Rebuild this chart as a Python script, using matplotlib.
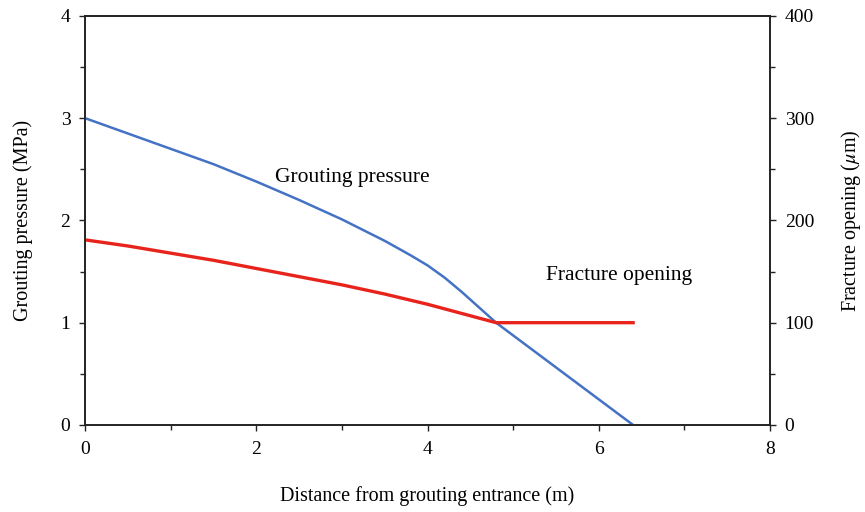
import matplotlib
matplotlib.use("Agg")
import matplotlib.pyplot as plt
from matplotlib.ticker import MultipleLocator

plt.rcParams['font.family'] = ['Liberation Serif', 'DejaVu Serif']
plt.rcParams['mathtext.fontset'] = 'stix'

# Grouting pressure along the fracture (MPa)
dist_p = [0, 0.5, 1.0, 1.5, 2.0, 2.5, 3.0, 3.5, 3.8, 4.0, 4.2, 4.4, 4.6, 4.8, 5.2, 5.6, 6.0, 6.4]
pressure = [3.00, 2.85, 2.70, 2.55, 2.38, 2.20, 2.01, 1.80, 1.66, 1.56, 1.44, 1.30, 1.15, 1.00, 0.75, 0.50, 0.25, 0.00]

# Fracture opening along the fracture (um)
dist_o = [0, 0.5, 1.0, 1.5, 2.0, 2.5, 3.0, 3.5, 4.0, 4.4, 4.8, 6.4]
opening = [181, 175, 168, 161, 153, 145, 137, 128, 118, 109, 100, 100]

fig = plt.figure(figsize=(8.65, 5.12), dpi=100)
ax = fig.add_axes([0.0983, 0.170, 0.792, 0.799])
ax2 = ax.twinx()

ax.plot(dist_p, pressure, color='#4472C4', lw=1.8, zorder=3)
ax2.plot(dist_o, opening, color='#E8231C', lw=2.4, zorder=2)

ax.set_xlim(0, 8)
ax.set_ylim(0, 4)
ax2.set_ylim(0, 400)

ax.xaxis.set_major_locator(MultipleLocator(2))
ax.xaxis.set_minor_locator(MultipleLocator(1))
ax.yaxis.set_major_locator(MultipleLocator(1))
ax.yaxis.set_minor_locator(MultipleLocator(0.5))
ax2.yaxis.set_major_locator(MultipleLocator(100))
ax2.yaxis.set_minor_locator(MultipleLocator(50))

for a in (ax, ax2):
    a.tick_params(which='major', direction='out', length=4.5, width=1.0, labelsize=14, pad=6, color='#222222')
    a.tick_params(which='minor', direction='out', length=3.5, width=1.0, color='#222222')
    for s in a.spines.values():
        s.set_linewidth(1.2)
        s.set_color('#222222')

ax.tick_params(axis='x', which='major', pad=7)

ax.set_xlabel('Distance from grouting entrance (m)', fontsize=14.5, labelpad=20)
ax.set_ylabel('Grouting pressure (MPa)', fontsize=14.5, labelpad=20)
ax2.set_ylabel(r'Fracture opening ($\mu$m)', fontsize=14.5, labelpad=18)

ax.text(2.22, 2.42, 'Grouting pressure', fontsize=15.5, ha='left', va='center')
ax.text(5.38, 1.46, 'Fracture opening', fontsize=15.5, ha='left', va='center')

fig.savefig('out.png', dpi=100)
